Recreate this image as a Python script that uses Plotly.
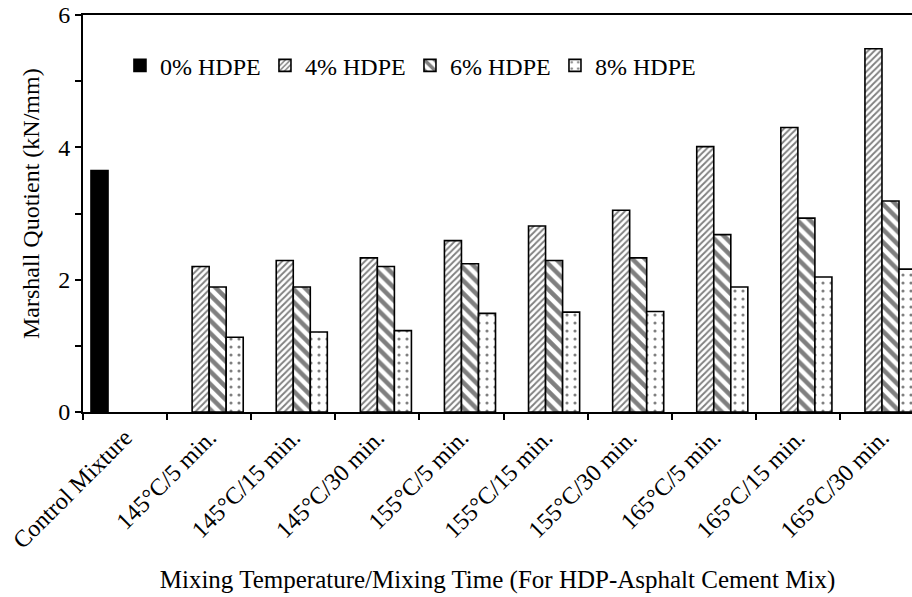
import plotly.graph_objects as go

# Mixing conditions (x categories)
categories = [
    "Control Mixture",
    "145°C/5 min.", "145°C/15 min.", "145°C/30 min.",
    "155°C/5 min.", "155°C/15 min.", "155°C/30 min.",
    "165°C/5 min.", "165°C/15 min.", "165°C/30 min.",
]

# Marshall quotient (kN/mm) by HDPE content
hdpe_0 = [3.65, None, None, None, None, None, None, None, None, None]
hdpe_4 = [None, 2.20, 2.29, 2.33, 2.59, 2.81, 3.05, 4.01, 4.30, 5.49]
hdpe_6 = [None, 1.89, 1.89, 2.20, 2.24, 2.29, 2.33, 2.68, 2.93, 3.19]
hdpe_8 = [None, 1.13, 1.21, 1.23, 1.49, 1.51, 1.52, 1.89, 2.04, 2.16]

series_names = ["0% HDPE", "4% HDPE", "6% HDPE", "8% HDPE"]
y_ticks = [0, 2, 4, 6]
y_title = "Marshall Quotient (kN/mm)"
x_title = "Mixing Temperature/Mixing Time (For HDP-Asphalt Cement Mix)"

FONT = "Liberation Serif, Times New Roman, serif"
outline = dict(color="black", width=1.6)

fig = go.Figure()
fig.add_trace(go.Bar(
    name=series_names[0], x=categories, y=hdpe_0,
    marker=dict(color="black", line=outline),
))
fig.add_trace(go.Bar(
    name=series_names[1], x=categories, y=hdpe_4,
    marker=dict(color="white", line=outline,
                pattern=dict(shape="/", fgcolor="black", bgcolor="white",
                             size=4.5, solidity=0.4)),
))
fig.add_trace(go.Bar(
    name=series_names[2], x=categories, y=hdpe_6,
    marker=dict(color="white", line=outline,
                pattern=dict(shape="\\", fgcolor="black", bgcolor="white",
                             size=9, solidity=0.5)),
))
fig.add_trace(go.Bar(
    name=series_names[3], x=categories, y=hdpe_8,
    marker=dict(color="white", line=outline,
                pattern=dict(shape=".", fgcolor="black", bgcolor="white",
                             size=8, solidity=0.12)),
))

fig.update_layout(
    width=912, height=597, autosize=False,
    margin=dict(l=83, r=0, t=15, b=185),
    paper_bgcolor="white", plot_bgcolor="white",
    font=dict(family=FONT, size=24, color="black"),
    barmode="group", bargap=0.19, bargroupgap=0,
    legend=dict(
        orientation="h", x=0.0446, xanchor="left", y=0.872, yanchor="middle",
        font=dict(size=24), itemwidth=30, bgcolor="rgba(0,0,0,0)",
        entrywidth=100, entrywidthmode="pixels",
        traceorder="normal",
    ),
)

# vertical axis title placed as a rotated annotation beside the tick labels
fig.add_annotation(
    text=y_title, textangle=-90, showarrow=False,
    xref="paper", yref="paper", x=-0.0627, y=0.524,
    xanchor="center", yanchor="middle",
    font=dict(family=FONT, size=24, color="black"),
)

fig.update_xaxes(
    type="category", range=[-0.5, 9.357],
    showline=True, linecolor="black", linewidth=2, mirror=True,
    ticks="outside", tickson="boundaries", ticklen=6, tickwidth=1.5,
    tickcolor="black", tickangle=-45, tickfont=dict(size=24),
    showgrid=False, zeroline=False,
    title=dict(text=x_title, font=dict(size=25), standoff=18),
)

fig.update_yaxes(
    range=[0, 6], tickvals=y_ticks, ticksuffix="\u2002",
    showline=True, linecolor="black", linewidth=2,
    ticks="outside", ticklen=6, tickwidth=1.5, tickcolor="black",
    minor=dict(ticks="outside", dtick=1, ticklen=6, tickwidth=1.5,
               tickcolor="black", showgrid=False),
    tickfont=dict(size=24),
    showgrid=False, zeroline=False,
)

fig.write_html("out.html")
